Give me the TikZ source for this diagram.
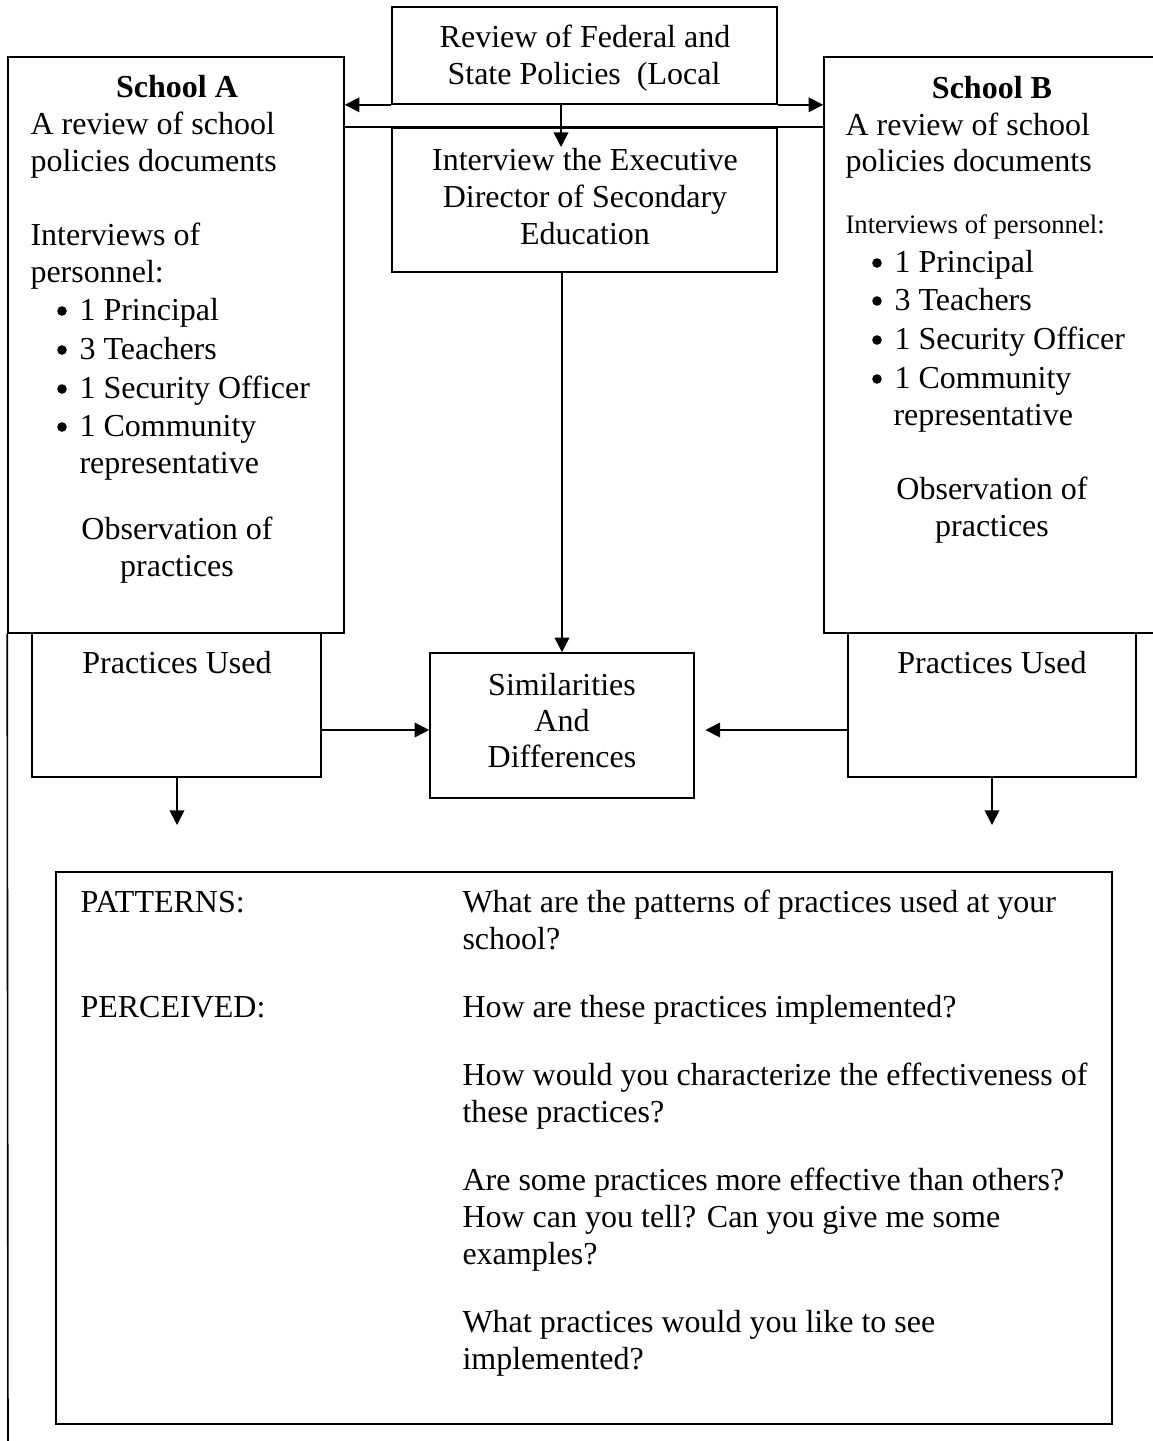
\documentclass[tikz,border=0pt]{standalone}
\usepackage{fontspec}
\setmainfont{Liberation Serif}
\usetikzlibrary{arrows.meta,fit}
\begin{document}
\begin{tikzpicture}[x=0.375pt,y=-0.375pt,
  every node/.style={font=\fontsize{12pt}{13.8pt}\selectfont},
  box/.style={draw,line width=0.6pt,inner sep=0pt},
  arr/.style={line width=0.6pt,-{Triangle[length=5.5pt,width=5.5pt]}},
  plain/.style={line width=0.6pt},
  tl/.style={anchor=base west,inner sep=0pt},
  tc/.style={anchor=base,inner sep=0pt},
  dot/.style={circle,fill,inner sep=0pt,minimum size=3.6pt},
  small/.style={font=\fontsize{10pt}{11.5pt}\selectfont}]
\useasboundingbox (0,0) rectangle (1152,1441);
% boxes
\node[box,fit={(392,7) (777,104)}] (T) {};
\node[box,fit={(8,57) (344,633)}] (A) {};
\node[box,fit={(824,57) (1165,633)}] (B) {};
\node[box,fit={(392,128) (777,272)}] (I) {};
\node[box,fit={(32,633) (321,777)}] (PA) {};
\node[box,fit={(848,633) (1136,777)}] (PB) {};
\node[box,fit={(430,653) (694,798)}] (S) {};
\node[box,line width=0.8pt,fit={(56,872) (1112,1424)}] (Q) {};
% coordinates
\coordinate (t1) at (561,147);
\coordinate (ay) at (0,730);
\coordinate (dA) at (177,825);
\coordinate (dB) at (992,825);
\coordinate (bot) at (8,1450);
% connectors
\draw[arr] (T.south west) -- (A.east |- T.south west);
\draw[arr] (T.south east) -- (B.west |- T.south east);
\draw[arr] (T.south -| t1) -- (t1);
\draw[plain] (A.east |- I.north) -- (B.west |- I.north);
\draw[arr] (I.south -| S.north) -- (S.north);
\draw[arr] (PA.east |- ay) -- (S.west |- ay);
\draw[arr,shorten >=4pt] (PB.west |- ay) -- (S.east |- ay);
\draw[arr] (PA.south -| dA) -- (dA);
\draw[arr] (PB.south -| dB) -- (dB);
\draw[plain] (A.south west) -- (bot);
% top texts
\node[tc] (t1a) at (585,47) {Review of Federal and};
\node[tc] (t1b) at (584,84) {State Policies\ \ (Local};
\node[tc] (i1) at (585,170) {Interview the Executive};
\node[tc] (i2) at (585,207) {Director of Secondary};
\node[tc] (i3) at (585,244) {Education};
% School A
\node[tc] (a0) at (177,97) {\bfseries School A};
\node[tl] (a1) at (30,134) {A review of school};
\node[tl] (a2) at (30,171) {policies documents};
\node[tl] (a3) at (30,245) {Interviews of};
\node[tl] (a4) at (30,282) {personnel:};
\node[dot] (ab1) at (62,311) {};
\node[dot] (ab2) at (62,350) {};
\node[dot] (ab3) at (62,389) {};
\node[dot] (ab4) at (62,427) {};
\node[tl] (a5) at (79,320) {1 Principal};
\node[tl] (a6) at (79,359) {3 Teachers};
\node[tl] (a7) at (79,398) {1 Security Officer};
\node[tl] (a8) at (79,436) {1 Community};
\node[tl] (a9) at (79,473) {representative};
\node[tc] (a10) at (177,539) {Observation of};
\node[tc] (a11) at (177,576) {practices};
% School B
\node[tc] (b0) at (992,98) {\bfseries School B};
\node[tl] (b1) at (845,135) {A review of school};
\node[tl] (b2) at (845,171) {policies documents};
\node[tl,small] (b3) at (845,233) {Interviews of personnel:};
\node[dot] (bb1) at (877,263) {};
\node[dot] (bb2) at (877,301) {};
\node[dot] (bb3) at (877,340) {};
\node[dot] (bb4) at (877,379) {};
\node[tl] (b5) at (894,272) {1 Principal};
\node[tl] (b6) at (894,310) {3 Teachers};
\node[tl] (b7) at (894,349) {1 Security Officer};
\node[tl] (b8) at (894,388) {1 Community};
\node[tl] (b9) at (893,425) {representative};
\node[tc] (b10) at (992,499) {Observation of};
\node[tc] (b11) at (992,536) {practices};
% practices used / similarities
\node[tc] (pa) at (177,673) {Practices Used};
\node[tc] (pb) at (992,673) {Practices Used};
\node[tc] (s1) at (562,695) {Similarities};
\node[tc] (s2) at (562,731) {And};
\node[tc] (s3) at (562,767) {Differences};
% bottom box
\node[tl] (q1) at (80,912) {PATTERNS:};
\node[tl] (q2) at (80,1017) {PERCEIVED:};
\node[tl] (r1) at (462,912) {What are the patterns of practices used at your};
\node[tl] (r2) at (462,949) {school?};
\node[tl] (r3) at (462,1017) {How are these practices implemented?};
\node[tl] (r4) at (462,1085) {How would you characterize the effectiveness of};
\node[tl] (r5) at (462,1122) {these practices?};
\node[tl] (r6) at (462,1190) {Are some practices more effective than others?};
\node[tl] (r7) at (462,1227) {How can you tell? Can you give me some};
\node[tl] (r8) at (462,1264) {examples?};
\node[tl] (r9) at (462,1332) {What practices would you like to see};
\node[tl] (r10) at (462,1369) {implemented?};
\end{tikzpicture}
\end{document}
